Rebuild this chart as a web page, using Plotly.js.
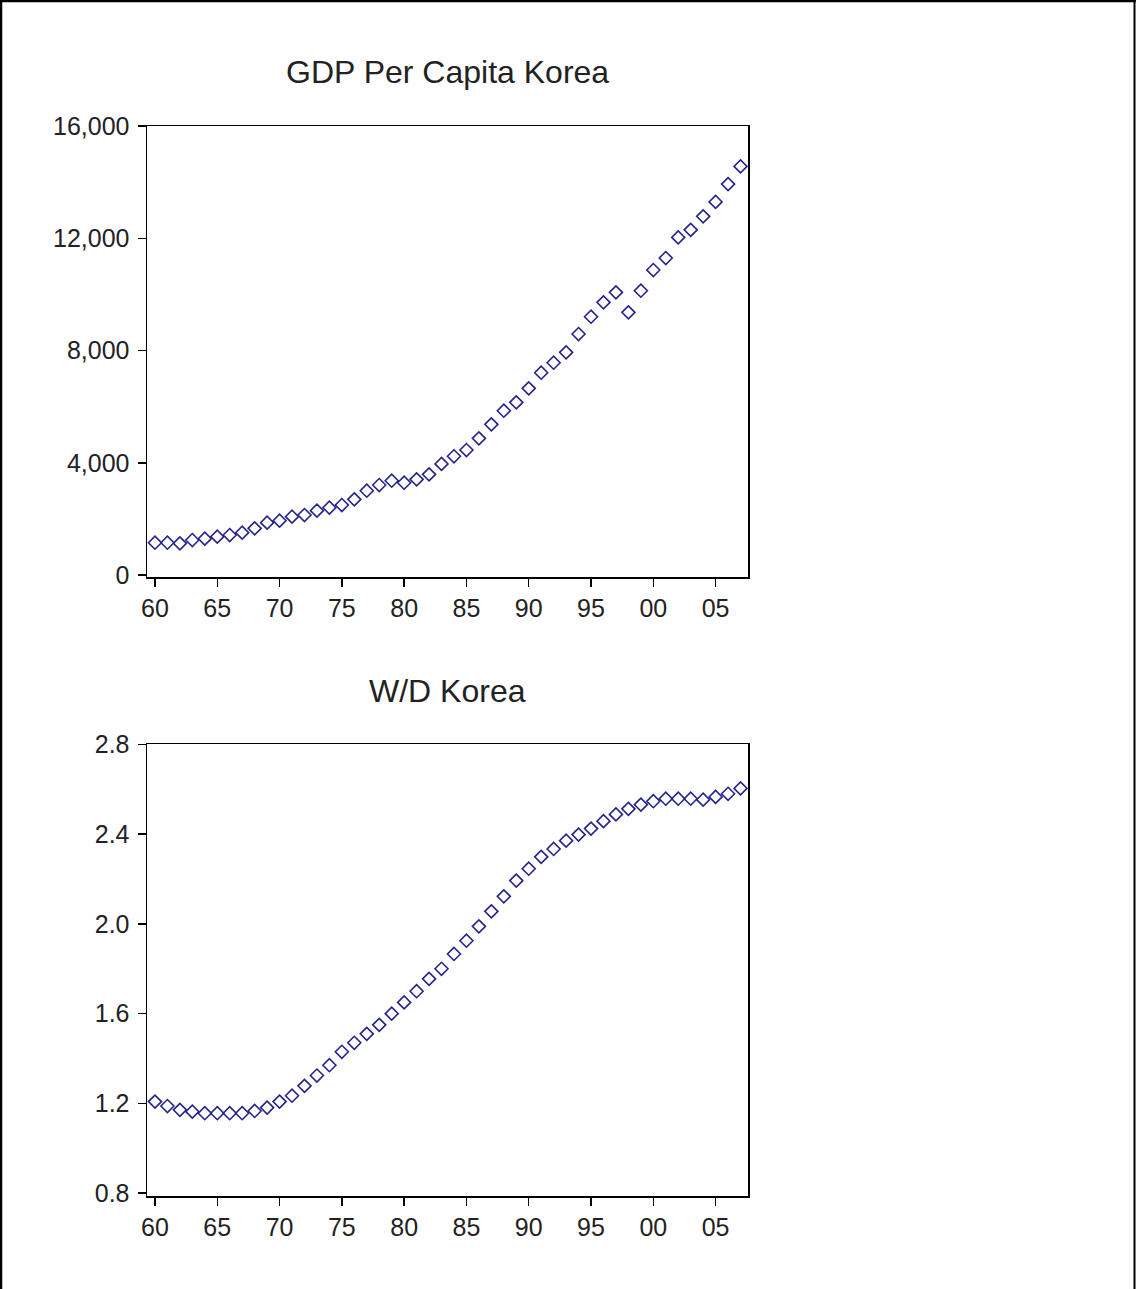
<!DOCTYPE html>
<html>
<head>
<meta charset="utf-8">
<script src="https://cdn.plot.ly/plotly-3.0.1.min.js"></script>
<style>
html,body{margin:0;padding:0;background:#fff;}
#chart{width:1136px;height:1289px;}
</style>
</head>
<body>
<div id="chart"></div>
<script>
const years = [];
for (let y = 1960; y <= 2007; y++) years.push(y);

const gdpPerCapita = [1151,1151,1128,1247,1294,1366,1425,1508,1663,1865,
  1936,2078,2138,2292,2399,2494,2696,3003,3207,3360,
  3289,3408,3586,3960,4230,4454,4871,5370,5854,6153,
  6652,7208,7564,7935,8587,9203,9716,10073,9360,10130,
  10867,11295,12030,12300,12780,13295,13931,14560];

const wdRatio = [1.208,1.188,1.171,1.163,1.156,1.156,1.156,1.156,1.166,1.181,
  1.208,1.234,1.278,1.324,1.370,1.430,1.470,1.510,1.550,1.600,
  1.650,1.700,1.755,1.800,1.866,1.925,1.989,2.056,2.123,2.193,
  2.246,2.299,2.334,2.371,2.398,2.425,2.458,2.488,2.513,2.532,
  2.547,2.558,2.558,2.558,2.554,2.566,2.580,2.604];

const xTickVals = [1960,1965,1970,1975,1980,1985,1990,1995,2000,2005];
const xTickText = ['60','65','70','75','80','85','90','95','00','05'];
const gdpTickVals = [0,4000,8000,12000,16000];
const gdpTickText = ['0','4,000','8,000','12,000','16,000'];
const wdTickVals = [0.8,1.2,1.6,2.0,2.4,2.8];
const wdTickText = ['0.8','1.2','1.6','2.0','2.4','2.8'];

const titles = ['GDP Per Capita Korea', 'W/D Korea'];

const W = 1136, H = 1289;
const px = v => v / W;
const py = v => 1 - v / H;

const markerStyle = {symbol:'diamond-open', size:10, color:'#24248c', line:{width:1.6, color:'#24248c'}};
const tickFont = {family:'Liberation Sans, Arial, sans-serif', size:25, color:'#222'};

const axisCommon = {
  showline:true, mirror:true, linecolor:'#000', linewidth:1.5,
  ticks:'outside', ticklen:8, tickwidth:1.5, tickcolor:'#000',
  showgrid:false, zeroline:false, tickfont:tickFont, fixedrange:true
};

const data = [
  {x:years, y:gdpPerCapita, type:'scatter', mode:'markers', marker:markerStyle, xaxis:'x', yaxis:'y', hoverinfo:'x+y'},
  {x:years, y:wdRatio, type:'scatter', mode:'markers', marker:markerStyle, xaxis:'x2', yaxis:'y2', hoverinfo:'x+y'}
];

const xDomain = [px(147), px(748)];
const xRange = [1959.36, 2007.6];

const layout = {
  width:W, height:H,
  margin:{l:0, r:0, t:0, b:0},
  paper_bgcolor:'#fff', plot_bgcolor:'#fff',
  showlegend:false,
  xaxis: Object.assign({}, axisCommon, {domain:xDomain, range:xRange, tickvals:xTickVals, ticktext:xTickText, anchor:'y'}),
  yaxis: Object.assign({}, axisCommon, {domain:[py(577), py(126)], range:[-71, 16000], tickvals:gdpTickVals, ticktext:gdpTickText, anchor:'x', ticklabelstandoff:3}),
  xaxis2: Object.assign({}, axisCommon, {domain:xDomain, range:xRange, tickvals:xTickVals, ticktext:xTickText, anchor:'y2'}),
  yaxis2: Object.assign({}, axisCommon, {domain:[py(1196), py(744)], range:[0.787, 2.802], tickvals:wdTickVals, ticktext:wdTickText, anchor:'x2', ticklabelstandoff:3}),
  annotations: [
    {text:titles[0], xref:'paper', yref:'paper', x:px(447.5), y:py(72), xanchor:'center', yanchor:'middle', showarrow:false,
     font:{family:'Liberation Sans, Arial, sans-serif', size:32, color:'#222'}},
    {text:titles[1], xref:'paper', yref:'paper', x:px(447.5), y:py(691), xanchor:'center', yanchor:'middle', showarrow:false,
     font:{family:'Liberation Sans, Arial, sans-serif', size:32, color:'#222'}}
  ],
  shapes: [
    {type:'line', xref:'paper', yref:'paper', x0:0, x1:1, y0:py(1), y1:py(1), line:{color:'#000', width:2.5}},
    {type:'line', xref:'paper', yref:'paper', x0:px(1), x1:px(1), y0:0, y1:1, line:{color:'#000', width:2.5}},
    {type:'line', xref:'paper', yref:'paper', x0:px(1134.5), x1:px(1134.5), y0:0, y1:1, line:{color:'#000', width:2}}
  ]
};

Plotly.newPlot('chart', data, layout, {displayModeBar:false, staticPlot:true});
</script>
</body>
</html>
